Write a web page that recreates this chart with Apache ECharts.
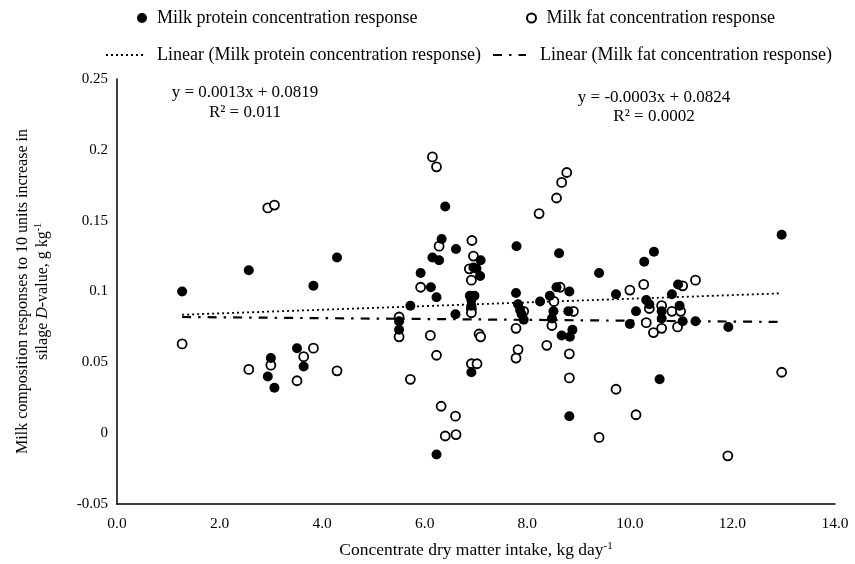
<!DOCTYPE html>
<html>
<head>
<meta charset="utf-8">
<script src="https://cdn.jsdelivr.net/npm/echarts@6/dist/echarts.min.js"></script>
<style>
  html, body { margin: 0; padding: 0; background: #fff; }
  #chart { width: 855px; height: 564px; }
</style>
</head>
<body>
<div id="chart"></div>
<script>
// values
var proteinPoints = [
  [1.27, 0.100], [2.57, 0.115], [2.94, 0.040], [3.00, 0.053], [3.07, 0.032],
  [3.51, 0.060], [3.64, 0.047], [3.83, 0.104], [4.29, 0.124], [5.50, 0.079],
  [5.50, 0.073], [5.72, 0.090], [5.92, 0.113], [6.12, 0.103], [6.15, 0.124],
  [6.23, 0.096], [6.23, -0.015], [6.28, 0.122], [6.33, 0.137], [6.40, 0.160],
  [6.60, 0.084], [6.61, 0.130], [6.88, 0.097], [6.91, 0.094], [6.91, 0.090],
  [6.91, 0.043], [6.95, 0.117], [6.97, 0.097], [7.01, 0.116], [7.08, 0.111],
  [7.09, 0.122], [7.78, 0.099], [7.79, 0.132], [7.82, 0.091], [7.86, 0.087],
  [7.89, 0.084], [7.93, 0.080], [8.25, 0.093], [8.44, 0.097], [8.48, 0.081],
  [8.51, 0.086], [8.57, 0.103], [8.62, 0.127], [8.67, 0.069], [8.80, 0.086],
  [8.82, 0.100], [8.83, 0.068], [8.82, 0.012], [8.88, 0.073], [9.40, 0.113],
  [9.73, 0.098], [10.00, 0.077], [10.12, 0.086], [10.28, 0.121], [10.32, 0.094],
  [10.38, 0.091], [10.47, 0.128], [10.58, 0.038], [10.62, 0.086], [10.62, 0.081],
  [10.82, 0.098], [10.94, 0.105], [10.97, 0.090], [11.03, 0.079], [11.28, 0.079],
  [11.92, 0.075], [12.96, 0.140]
];
var fatPoints = [
  [1.27, 0.063], [2.57, 0.045], [2.94, 0.159], [3.07, 0.161], [3.00, 0.048],
  [3.51, 0.037], [3.64, 0.054], [3.83, 0.060], [4.29, 0.044], [5.50, 0.082],
  [5.50, 0.068], [5.72, 0.038], [5.92, 0.103], [6.11, 0.069], [6.15, 0.195],
  [6.23, 0.188], [6.23, 0.055], [6.28, 0.132], [6.32, 0.019], [6.40, -0.002],
  [6.60, 0.012], [6.61, -0.001], [6.87, 0.116], [6.91, 0.108], [6.92, 0.136],
  [6.95, 0.125], [6.91, 0.088], [6.91, 0.085], [6.91, 0.049], [7.02, 0.049],
  [7.06, 0.070], [7.09, 0.068], [7.78, 0.074], [7.82, 0.059], [7.78, 0.053],
  [7.93, 0.086], [8.23, 0.155], [8.38, 0.062], [8.48, 0.076], [8.52, 0.093],
  [8.57, 0.166], [8.64, 0.103], [8.67, 0.177], [8.77, 0.184], [8.82, 0.056],
  [8.82, 0.039], [8.90, 0.086], [9.40, -0.003], [9.73, 0.031], [10.00, 0.101],
  [10.12, 0.013], [10.27, 0.105], [10.32, 0.078], [10.38, 0.088], [10.46, 0.071],
  [10.62, 0.090], [10.62, 0.074], [10.82, 0.086], [10.93, 0.075], [10.99, 0.086],
  [11.03, 0.104], [11.28, 0.108], [11.91, -0.016], [12.96, 0.043]
];
// trendline end points (Excel linear fits)
var proteinTrend = [[1.27, 0.0836], [12.96, 0.0987]];
var fatTrend = [[1.27, 0.0820], [12.96, 0.0785]];
var proteinEq = ['y = 0.0013x + 0.0819', 'R\u00b2 = 0.011'];
var fatEq = ['y = -0.0003x + 0.0824', 'R\u00b2 = 0.0002'];

var seriesNames = [
  'Milk protein concentration response',
  'Milk fat concentration response',
  'Linear (Milk protein concentration response)',
  'Linear (Milk fat concentration response)'
];

var FONT = '"Liberation Serif", "Times New Roman", serif';
var chart = echarts.init(document.getElementById('chart'));

var legendText = { color: '#000', fontFamily: FONT, fontSize: 18 };
var lineLegendText = { color: '#000', fontFamily: FONT, fontSize: 18, padding: [0, 0, 0, 9] };

function eqText(x, y, txt) {
  return {
    type: 'text', x: x, y: y,
    style: { text: txt, font: '17px ' + FONT, fill: '#000', align: 'center', verticalAlign: 'middle' }
  };
}

chart.setOption({
  animation: false,
  backgroundColor: '#fff',
  grid: { left: 117, right: 20, top: 79, bottom: 60 },
  legend: [
    { data: [seriesNames[0]], left: 132, top: 4, itemWidth: 20, itemHeight: 10, textStyle: legendText },
    { data: [seriesNames[1]], left: 521, top: 4, itemWidth: 20, itemHeight: 9, textStyle: legendText },
    { data: [seriesNames[2]], left: 100, top: 41, itemWidth: 37, itemHeight: 10,
      itemStyle: { opacity: 0 }, textStyle: lineLegendText },
    { data: [seriesNames[3]], left: 487, top: 41, itemWidth: 33, itemHeight: 10,
      itemStyle: { opacity: 0 }, textStyle: lineLegendText }
  ],
  xAxis: {
    type: 'value',
    min: 0,
    max: 14,
    interval: 2,
    name: '{a|Concentrate dry matter intake, kg day}{s|-1}',
    nameLocation: 'middle',
    nameGap: 37,
    nameTextStyle: {
      rich: {
        a: { fontFamily: FONT, fontSize: 17.5, color: '#000', lineHeight: 18 },
        s: { fontFamily: FONT, fontSize: 11, color: '#000', verticalAlign: 'top', lineHeight: 12 }
      }
    },
    axisLine: { onZero: false, lineStyle: { color: '#000', width: 1.5 } },
    axisTick: { show: false },
    splitLine: { show: false },
    axisLabel: {
      color: '#000', fontFamily: FONT, fontSize: 15.5, margin: 12,
      formatter: function (v) { return v.toFixed(1); }
    }
  },
  yAxis: {
    type: 'value',
    min: -0.05,
    max: 0.25,
    interval: 0.05,
    name: '{a|Milk composition responses to 10 units increase in}\n{a|silage }{i|D}{a|-value, g kg}{s|-1}',
    nameLocation: 'middle',
    nameRotate: 90,
    nameGap: 64,
    nameTextStyle: {
      align: 'center',
      rich: {
        a: { fontFamily: FONT, fontSize: 16, color: '#000', lineHeight: 20 },
        i: { fontFamily: FONT, fontSize: 16, color: '#000', fontStyle: 'italic', lineHeight: 20 },
        s: { fontFamily: FONT, fontSize: 10, color: '#000', verticalAlign: 'top', lineHeight: 12 }
      }
    },
    axisLine: { show: true, onZero: false, lineStyle: { color: '#000', width: 1.5 } },
    axisTick: { show: false },
    splitLine: { show: false },
    axisLabel: {
      color: '#000', fontFamily: FONT, fontSize: 15, margin: 9,
      formatter: function (v) { return String(Math.round(v * 100) / 100); }
    }
  },
  graphic: [
    eqText(245, 93, proteinEq[0]),
    eqText(245, 113, proteinEq[1]),
    eqText(654, 98, fatEq[0]),
    eqText(654, 117, fatEq[1])
  ],
  series: [
    {
      name: seriesNames[2],
      type: 'line',
      data: proteinTrend,
      symbol: 'none',
      silent: true,
      itemStyle: { color: '#000' },
      lineStyle: { color: '#000', width: 1.8, type: [2, 3] },
      z: 1
    },
    {
      name: seriesNames[3],
      type: 'line',
      data: fatTrend,
      symbol: 'none',
      silent: true,
      itemStyle: { color: '#000' },
      lineStyle: { color: '#000', width: 2.2, type: [9, 7, 2.5, 7] },
      z: 1
    },
    {
      name: seriesNames[0],
      type: 'scatter',
      data: proteinPoints,
      symbol: 'circle',
      symbolSize: 10,
      itemStyle: { color: '#000', opacity: 1 },
      z: 3
    },
    {
      name: seriesNames[1],
      type: 'scatter',
      data: fatPoints,
      symbol: 'circle',
      symbolSize: 9,
      itemStyle: { color: '#fff', borderColor: '#000', borderWidth: 1.8, opacity: 1 },
      z: 2
    }
  ]
});
</script>
</body>
</html>
